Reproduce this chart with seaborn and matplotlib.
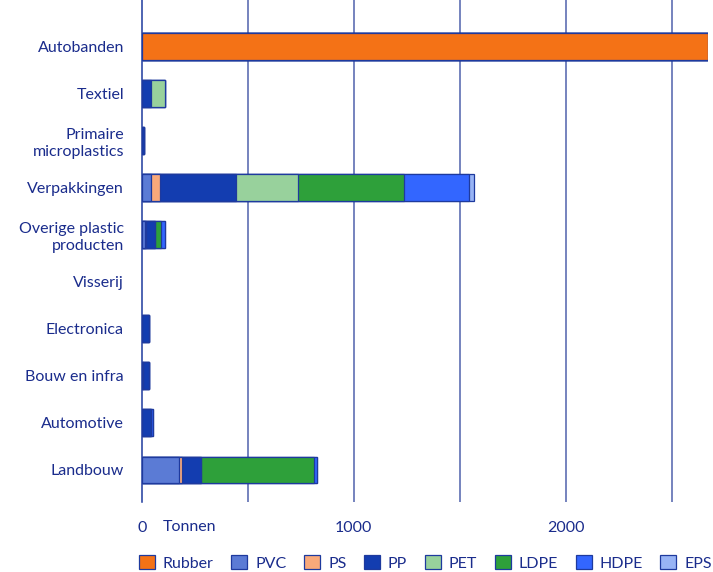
"""Microplastic emissions per source, stacked by polymer type."""
import numpy as np
import pandas as pd
import seaborn as sns
import matplotlib.pyplot as plt
from matplotlib.patches import Patch

sns.set_theme(style="white")
plt.rcParams['font.family'] = ['Lato', 'DejaVu Sans']

NAVY = "#1A2C8C"
FS = 11.5

# Sources, top to bottom
sources = ["Autobanden", "Textiel", "Primaire\nmicroplastics", "Verpakkingen",
           "Overige plastic\nproducten", "Visserij", "Electronica",
           "Bouw en infra", "Automotive", "Landbouw"]

# Tonnes per polymer, one value per source (same order as above)
rubber = [2670, 0, 0, 0, 0, 0, 0, 0, 0, 0]
pvc = [0, 0, 0, 41, 15, 0, 0, 5, 0, 175]
ps = [0, 0, 0, 44, 5, 0, 0, 0, 0, 14]
pp = [0, 42, 8, 358, 42, 0, 32, 27, 42, 88]
pet = [0, 66, 0, 295, 0, 0, 0, 0, 0, 0]
ldpe = [0, 0, 0, 499, 28, 0, 0, 0, 0, 537]
hdpe = [0, 0, 0, 307, 18, 0, 0, 0, 8, 12]
eps = [0, 0, 0, 23, 0, 0, 0, 0, 0, 0]

materials = ["Rubber", "PVC", "PS", "PP", "PET", "LDPE", "HDPE", "EPS"]
colors = ["#F47216", "#5B7BD5", "#F9A97A", "#133DB0", "#98D19C",
          "#2EA03A", "#3366FF", "#98B4F5"]

df = pd.DataFrame({"Bron": sources, "Rubber": rubber, "PVC": pvc, "PS": ps,
                   "PP": pp, "PET": pet, "LDPE": ldpe, "HDPE": hdpe, "EPS": eps})
cum = df[materials].cumsum(axis=1)
cum["Bron"] = df["Bron"]

fig = plt.figure(figsize=(7.13, 5.72), dpi=100)
ax = fig.add_axes([142 / 713, 70 / 572, 566 / 713, 502 / 572])

# grid first, bars on top
for gx in range(500, 3000, 500):
    ax.axvline(gx, color="#4F62AC", lw=1.1, zorder=0)

# stacked bars: overlay cumulative totals, longest first
for mat, col in reversed(list(zip(materials, colors))):
    sub = cum[cum[mat] > 0]
    sns.barplot(data=sub, x=mat, y="Bron", order=sources, orient="h",
                color=col, width=0.57, edgecolor="#1E3A9E", linewidth=0.9,
                saturation=1, ax=ax, zorder=2)

ax.set_xlim(0, 2672)
ax.set_ylim(9.68, -0.98)
ax.set_xlabel("")
ax.set_ylabel("")
ax.set_xticks([0, 500, 1000, 1500, 2000, 2500])
ax.set_xticklabels(["0", "", "1000", "", "2000", ""])
ax.tick_params(axis="x", length=0, pad=14, labelsize=FS, labelcolor=NAVY)
ax.tick_params(axis="y", length=0, pad=13, labelsize=FS, labelcolor=NAVY)
for lab in ax.get_yticklabels():
    lab.set_multialignment("right")
    lab.set_linespacing(1.3)

sns.despine(ax=ax, top=True, right=True, bottom=True, left=False)
ax.spines["left"].set_color("#1E3A9E")
ax.spines["left"].set_linewidth(1.1)
ax.spines["left"].set_zorder(3)

ax.text(100, -0.05, "Tonnen", transform=ax.get_xaxis_transform(),
        ha="left", va="center", fontsize=FS, color=NAVY)

handles = [Patch(facecolor=c, edgecolor="#1E3A9E", linewidth=0.9, label=m)
           for m, c in zip(materials, colors)]
leg = fig.legend(handles=handles, loc="center left", bbox_to_anchor=(139 / 713, 9 / 572),
                 ncol=8, frameon=False, handlelength=1.0, handleheight=1.0,
                 handletextpad=0.5, columnspacing=1.1, fontsize=FS,
                 borderaxespad=0, borderpad=0)
for t in leg.get_texts():
    t.set_color(NAVY)

fig.savefig("out.png", dpi=100)
plt.close(fig)
